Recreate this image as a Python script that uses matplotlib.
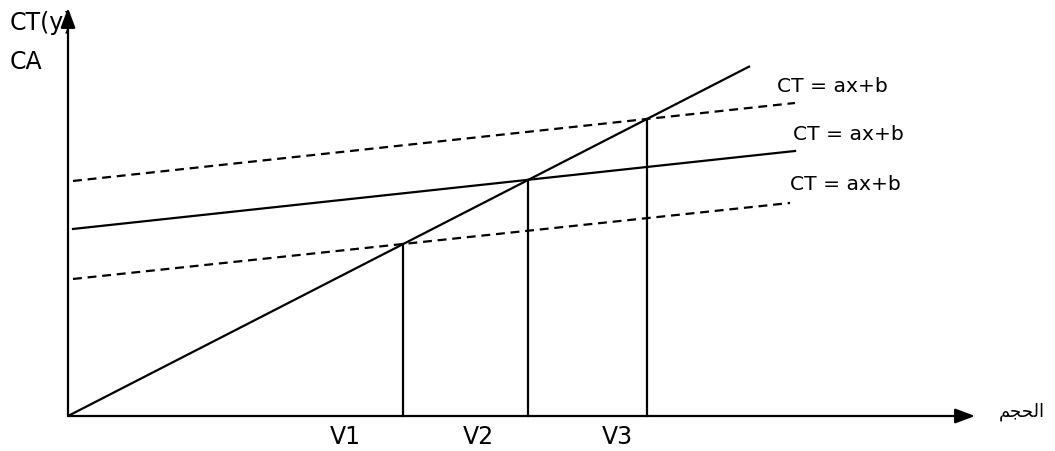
import matplotlib
matplotlib.use("Agg")
import matplotlib.pyplot as plt
import numpy as np

# ---- data (in chart units) ----
ca_slope = 0.513                      # CA = p * x (revenue line through origin)
ct_names = ["CT = ax+b", "CT = ax+b", "CT = ax+b"]
ct_slopes = [0.108, 0.108, 0.106]     # upper dashed, solid, lower dashed
ct_intercepts = [2.345, 1.865, 1.365]
ct_styles = ["dashed", "solid", "dashed"]
ct_x_start = [0.05, 0.05, 0.05]
ct_x_end = [7.27, 7.27, 7.22]
ca_x_end = 6.82
v_labels = ["V1", "V2", "V3"]
x_label = "\uFEE2\uFEA0\uFEA4\uFEDF\uFE8D"   # الحجم (shaped presentation forms)
y_label_1 = "CT(y)"
y_label_2 = "CA"

fig = plt.figure(figsize=(10.55, 4.52), dpi=100)
ax = fig.add_axes([0, 0, 1, 1])
ax.set_xlim(-0.68, 9.87)
ax.set_ylim(-0.35, 4.17)
ax.axis("off")

lw = 1.6
# axes with arrows
ax.annotate("", xy=(9.07, 0.0), xytext=(0, 0),
            arrowprops=dict(arrowstyle="-|>,head_length=1.2,head_width=0.45",
                            lw=lw, color="black", shrinkA=0, shrinkB=0))
ax.annotate("", xy=(0, 4.08), xytext=(0, 0),
            arrowprops=dict(arrowstyle="-|>,head_length=1.2,head_width=0.45",
                            lw=lw, color="black", shrinkA=0, shrinkB=0))

# CA line
xs = np.array([0, ca_x_end])
ax.plot(xs, ca_slope * xs, color="black", lw=lw, solid_capstyle="butt")

# CT lines
label_pos = [(7.09, 3.31), (7.25, 2.82), (7.22, 2.32)]
for s, b, st, x0, x1, name, lp in zip(ct_slopes, ct_intercepts, ct_styles,
                                      ct_x_start, ct_x_end, ct_names, label_pos):
    xx = np.array([x0, x1])
    line, = ax.plot(xx, b + s * xx, color="black", lw=lw)
    if st == "dashed":
        line.set_dashes((4, 2.6))
    ax.text(lp[0], lp[1], name, fontsize=14.6, va="center", ha="left",
            family="DejaVu Sans")

# break-even verticals
v_label_x = [2.77, 4.10, 5.49]
for b, s, lab, lx in zip(ct_intercepts[::-1], ct_slopes[::-1], v_labels, v_label_x):
    xv = b / (ca_slope - s)
    ax.plot([xv, xv], [0, ca_slope * xv], color="black", lw=lw)
    ax.text(lx, -0.20, lab, fontsize=17, ha="center", va="center",
            family="DejaVu Sans")

ax.text(-0.58, 3.94, y_label_1, fontsize=17, ha="left", va="center",
        family="DejaVu Sans")
ax.text(-0.58, 3.55, y_label_2, fontsize=17, ha="left", va="center",
        family="DejaVu Sans")
ax.text(9.54, 0.05, x_label, fontsize=13, ha="center", va="center",
        family=["DejaVu Sans", "Noto Sans"])

fig.savefig("out.png", dpi=100, facecolor="white")
